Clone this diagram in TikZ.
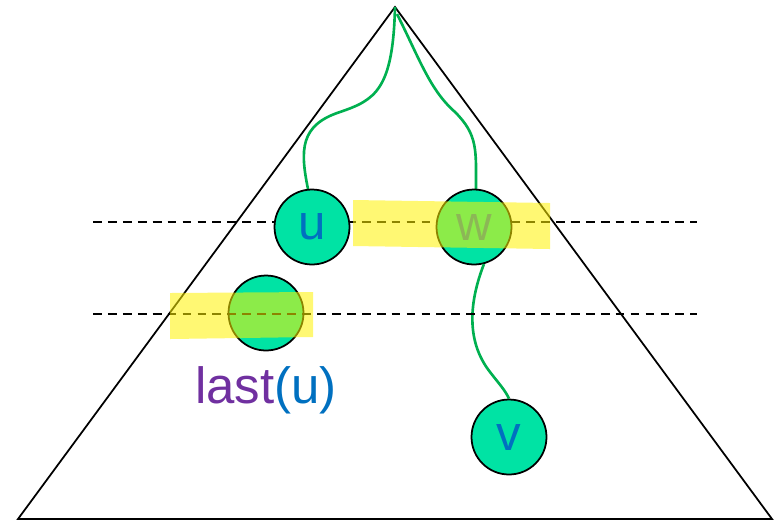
\documentclass[tikz,border=0pt]{standalone}
\usepackage{fontspec}
\setmainfont{Liberation Sans}
\usepackage{tikz}
\usetikzlibrary{positioning}
\definecolor{nodefill}{RGB}{0,227,164}
\definecolor{pathgreen}{RGB}{0,176,80}
\definecolor{letterblue}{RGB}{0,112,192}
\definecolor{lastpurple}{RGB}{112,48,160}

\begin{document}
\begin{tikzpicture}[x=0.02cm, y=-0.02cm,
      vertex/.style = {shape=circle, draw=black, line width=1pt, fill=nodefill,
        minimum size=1.5cm, inner sep=0pt, font=\fontsize{28}{28}\selectfont,
        text=letterblue},
      level/.style = {dash pattern=on 5pt off 3.5pt, line width=0.7pt},
      path/.style = {draw=pathgreen, line width=1.5pt},
      marker/.style = {fill=yellow, fill opacity=0.55}
    ]
      \useasboundingbox (0,0) rectangle (780,522);
      % the tree
      \coordinate (root) at (395,7);
      \draw[line width=1pt] (root) -- (18,519) -- (772,519) -- cycle;
      % upper level
      \draw[level] (93,222) -- (697,222);
      \draw[path] (root) .. controls (393,90) and (375,100) .. (340,112)
        .. controls (300,125) and (300,150) .. (308,189);
      \draw[path] (397,14) .. controls (420,60) and (430,90) .. (455,112)
        .. controls (478,135) and (476,150) .. (476,189);
      \node[vertex] (u) at (312,227) {u};
      \node[vertex] (w) at (474,227) {w};
      \node[vertex] (v) at (509,437) {v};
      \draw[path] (w.-75) .. controls (470,300) and (465,340) .. (490,372)
        .. controls (500,385) and (505,390) .. (v.north);
      \node[vertex] (lastu) at (266,313) {};
      \node[below=5pt of lastu, font=\fontsize{29}{29}\selectfont]
        (lastlabel) {\textcolor{lastpurple}{last}\textcolor{letterblue}{(u)}};
      % lower level
      \draw[level] (93,314) -- (697,314);
      % highlights
      \fill[marker] (353,200) -- (550,203) -- (550,249) -- (353,246) -- cycle;
      \fill[marker] (170,293) -- (313,292) -- (313,337) -- (170,339) -- cycle;
    \end{tikzpicture}
\end{document}
